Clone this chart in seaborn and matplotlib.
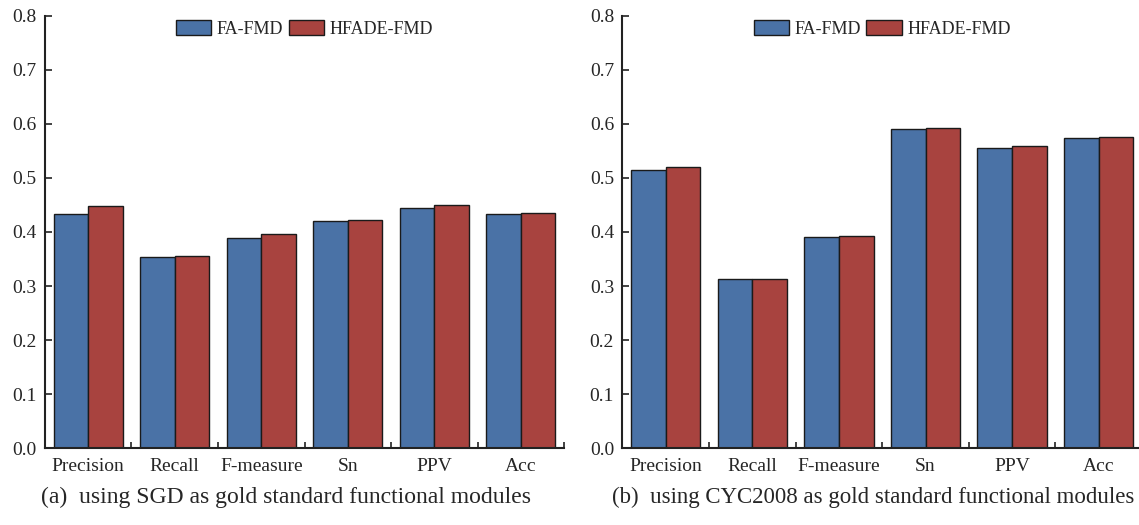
import matplotlib
matplotlib.use("Agg")
import matplotlib.pyplot as plt
import seaborn as sns
import pandas as pd
from matplotlib.ticker import FixedLocator

metrics = ["Precision", "Recall", "F-measure", "Sn", "PPV", "Acc"]
methods = ["FA-FMD", "HFADE-FMD"]

# panel (a): SGD gold standard
sgd_fa = [0.434, 0.353, 0.389, 0.421, 0.444, 0.433]
sgd_hfade = [0.448, 0.356, 0.396, 0.422, 0.450, 0.435]

# panel (b): CYC2008 gold standard
cyc_fa = [0.515, 0.313, 0.390, 0.591, 0.555, 0.573]
cyc_hfade = [0.520, 0.313, 0.392, 0.593, 0.559, 0.576]

captions = ["(a)  using SGD as gold standard functional modules",
            "(b)  using CYC2008 as gold standard functional modules"]
yticks = [0.0, 0.1, 0.2, 0.3, 0.4, 0.5, 0.6, 0.7, 0.8]

colors = ["#4A72A6", "#A8433F"]

sns.set_style("white")
plt.rcParams["font.family"] = ["Liberation Serif", "DejaVu Serif"]


def to_frame(fa, hfade):
    rows = []
    for m, a, b in zip(metrics, fa, hfade):
        rows.append({"metric": m, "method": methods[0], "value": a})
        rows.append({"metric": m, "method": methods[1], "value": b})
    return pd.DataFrame(rows)


fig = plt.figure(figsize=(11.39, 5.25), dpi=100)
ax_a = fig.add_axes([0.0395, 0.1461, 0.4557, 0.824])
ax_b = fig.add_axes([0.5464, 0.1461, 0.4563, 0.824])

panels = [(ax_a, sgd_fa, sgd_hfade), (ax_b, cyc_fa, cyc_hfade)]
for ax, fa, hfade in panels:
    df = to_frame(fa, hfade)
    sns.barplot(data=df, x="metric", y="value", hue="method", order=metrics,
                hue_order=methods, palette=colors, saturation=1, width=0.8,
                edgecolor="#1a1a1a", linewidth=1.0, ax=ax)
    ax.set_xlim(-0.5, len(metrics) - 0.5)
    ax.set_ylim(0, 0.8)
    ax.set_yticks(yticks)
    ax.set_yticklabels([f"{t:.1f}" for t in yticks])
    ax.set_xlabel("")
    ax.set_ylabel("")
    ax.xaxis.set_minor_locator(FixedLocator([i + 0.5 for i in range(len(metrics))]))
    ax.tick_params(axis="x", which="major", length=0, labelsize=14, pad=7)
    ax.tick_params(axis="x", which="minor", direction="in", length=4,
                   width=1.2, color="#222222", bottom=True)
    ax.tick_params(axis="y", direction="in", length=5, width=1.2,
                   color="#222222", labelsize=14, pad=6, left=True)
    for side in ["top", "right"]:
        ax.spines[side].set_visible(False)
    for side in ["left", "bottom"]:
        ax.spines[side].set_color("#222222")
        ax.spines[side].set_linewidth(1.5)
    ax.legend(loc="upper center", bbox_to_anchor=(0.5, 1.01), ncol=2,
              frameon=False, fontsize=13, handlelength=1.95, handleheight=0.85,
              handletextpad=0.3, columnspacing=0.3, borderaxespad=0.1)

fig.text(0.251, 0.053, captions[0], ha="center", va="center", fontsize=17)
fig.text(0.7665, 0.053, captions[1], ha="center", va="center", fontsize=16.5)

fig.savefig("out.png", dpi=100)
